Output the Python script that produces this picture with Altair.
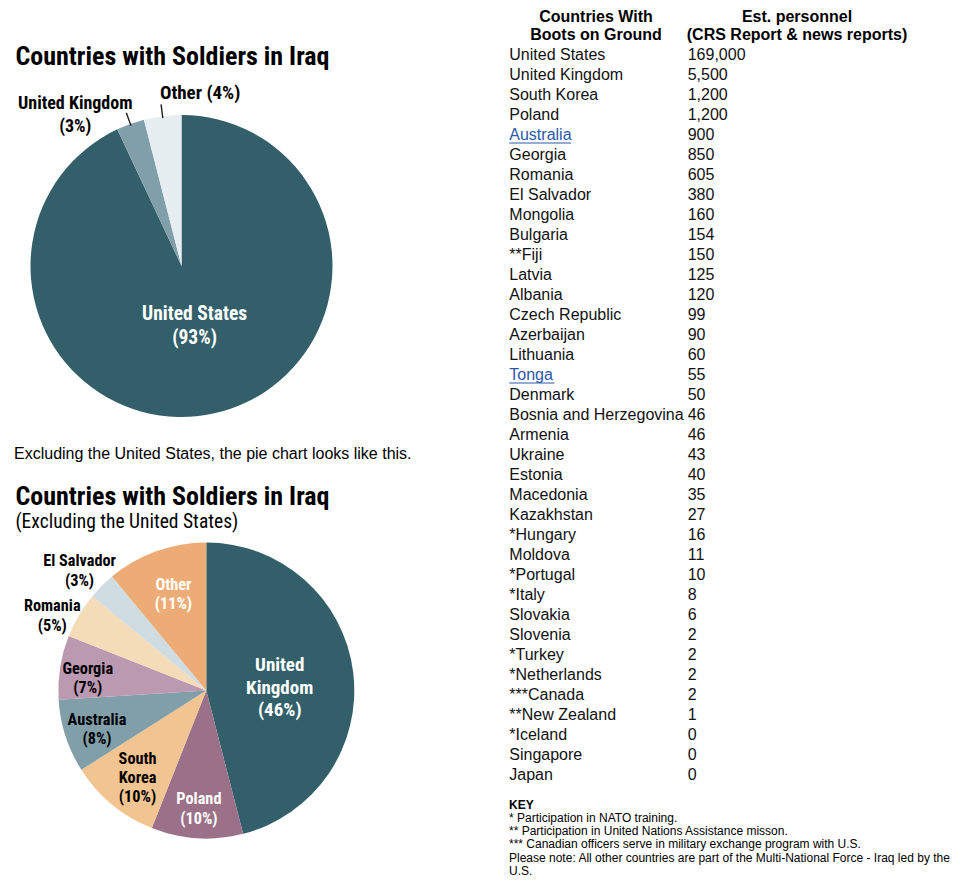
import altair as alt
import pandas as pd

# ---------------- data ----------------
pie1_names = ["United States", "United Kingdom", "Other"]
pie1_pct = [93, 3, 4]
pie1_colors = ["#335f6a", "#809fa9", "#e7eef2"]

pie2_names = ["United Kingdom", "Poland", "South Korea", "Australia",
              "Georgia", "Romania", "El Salvador", "Other"]
pie2_lines = ["United|Kingdom", "Poland", "South|Korea", "Australia",
              "Georgia", "Romania", "El Salvador", "Other"]
pie2_pct = [46, 10, 10, 8, 7, 5, 3, 11]
pie2_colors = ["#335f6a", "#9b7189", "#f2c491", "#809fa9",
               "#bb99b0", "#f5dcb9", "#cfdce2", "#edac76"]

countries = ["United States", "United Kingdom", "South Korea", "Poland", "Australia",
             "Georgia", "Romania", "El Salvador", "Mongolia", "Bulgaria", "**Fiji",
             "Latvia", "Albania", "Czech Republic", "Azerbaijan", "Lithuania", "Tonga",
             "Denmark", "Bosnia and Herzegovina", "Armenia", "Ukraine", "Estonia",
             "Macedonia", "Kazakhstan", "*Hungary", "Moldova", "*Portugal", "*Italy",
             "Slovakia", "Slovenia", "*Turkey", "*Netherlands", "***Canada",
             "**New Zealand", "*Iceland", "Singapore", "Japan"]
personnel = [169000, 5500, 1200, 1200, 900, 850, 605, 380, 160, 154, 150, 125, 120,
             99, 90, 60, 55, 50, 46, 46, 43, 40, 35, 27, 16, 11, 10, 8, 6, 2, 2, 2,
             2, 1, 0, 0, 0]
links = ["Australia", "Tonga"]

title_text = "Countries with Soldiers in Iraq"
subtitle_text = "(Excluding the United States)"
between_text = "Excluding the United States, the pie chart looks like this."
header1 = ["Countries With", "Boots on Ground"]
header2 = ["Est. personnel", "(CRS Report & news reports)"]
key_title = "KEY"
key_lines = ["* Participation in NATO training.",
             "** Participation in United Nations Assistance misson.",
             "*** Canadian officers serve in military exchange program with U.S.",
             "Please note: All other countries are part of the Multi-National Force - Iraq led by the",
             "U.S."]

# ---------------- styles ----------------
COND = "Roboto Condensed, Liberation Sans Narrow, DejaVu Sans Condensed, sans-serif"
SANS = "Liberation Sans, Arial, Helvetica, sans-serif"
LINK = "#2b58a8"

one = pd.DataFrame({"k": [0]})


def pie_df(names, lines, pct):
    return pd.DataFrame({"name": names, "lines": lines, "pct": pct,
                         "idx": list(range(len(names)))})


def with_angles(ch):
    return (ch.transform_joinaggregate(total="sum(pct)")
            .transform_window(cum="sum(pct)", sort=[alt.SortField("idx")], frame=[None, 0])
            .transform_calculate(a1="datum.cum / datum.total * 2 * PI")
            .transform_calculate(a0="(datum.cum - datum.pct) / datum.total * 2 * PI")
            .transform_calculate(mid="(datum.a0 + datum.a1) / 2"))


def pie_layer(df, names, colors, cx, cy, r):
    return with_angles(alt.Chart(df)).mark_arc(radius=r).encode(
        theta=alt.Theta("a0:Q", scale=None, stack=None),
        theta2="a1:Q",
        color=alt.Color("name:N", scale=alt.Scale(domain=names, range=colors), legend=None),
        x=alt.value(cx), y=alt.value(cy),
    )


def label_layer(df, name, cx, cy, r, color, size, lh, sep="|", dx=0, dy=0):
    return (with_angles(alt.Chart(df))
            .transform_filter(alt.datum.name == name)
            .transform_calculate(label="split(datum.lines + '" + sep + "(' + datum.pct + '%)', '|')")
            .mark_text(radius=r, font=COND, fontWeight="bold", fontSize=size, lineHeight=lh,
                       color=color, align="center", baseline="middle", dx=dx, dy=dy)
            .encode(theta=alt.Theta("mid:Q", scale=None, stack=None),
                    x=alt.value(cx), y=alt.value(cy), text=alt.Text("label:N")))


def leader_layer(df, names, cx, cy, r_out, r_in):
    return (with_angles(alt.Chart(df))
            .transform_filter(alt.FieldOneOfPredicate(field="name", oneOf=names))
            .transform_calculate(l0="datum.mid - 0.0045", l1="datum.mid + 0.0045")
            .mark_arc(radius=r_out, radius2=r_in, color="#222")
            .encode(theta=alt.Theta("l0:Q", scale=None, stack=None), theta2="l1:Q",
                    x=alt.value(cx), y=alt.value(cy)))


def text_value(txt, x, y, size, font=SANS, weight="normal", align="left", lh=None, color="black"):
    kw = dict(font=font, fontSize=size, fontWeight=weight, align=align, baseline="middle", color=color)
    if lh is not None:
        kw["lineHeight"] = lh
    return alt.Chart(one).mark_text(**kw).encode(
        x=alt.value(x), y=alt.value(y), text=alt.value(txt))


# ---------------- pies ----------------
p1 = pie_df(pie1_names, pie1_names, pie1_pct)
p2 = pie_df(pie2_names, pie2_lines, pie2_pct)
C1X, C1Y, R1 = 173.5, 258, 151
C2X, C2Y, R2 = 198.3, 682.5, 148

layers = [
    text_value(title_text, 7.5, 48.5, 26, font=COND, weight="bold"),
    pie_layer(p1, pie1_names, pie1_colors, C1X, C1Y, R1),
    leader_layer(p1, ["United Kingdom", "Other"], C1X, C1Y, 163, 149),
    label_layer(p1, "United States", C1X, C1Y, 60, "white", 19.5, 24, dy=-11),
    label_layer(p1, "United Kingdom", C1X, C1Y, 160, "black", 18, 23, dx=-52, dy=-11),
    label_layer(p1, "Other", C1X, C1Y, 170, "black", 19, 22, sep=" ", dx=40, dy=-4),
    text_value(between_text, 6, 446, 16),
    text_value(title_text, 7.5, 488.5, 26, font=COND, weight="bold"),
    text_value(subtitle_text, 7.5, 513.5, 19.5, font=COND),
    pie_layer(p2, pie2_names, pie2_colors, C2X, C2Y, R2),
    label_layer(p2, "United Kingdom", C2X, C2Y, 74, "white", 19, 22.5, dy=-16),
    label_layer(p2, "Poland", C2X, C2Y, 118, "white", 16.3, 19.5, dy=-9),
    label_layer(p2, "South Korea", C2X, C2Y, 111, "black", 16.3, 19.3, dx=2, dy=-17.5),
    label_layer(p2, "Australia", C2X, C2Y, 116, "black", 16.3, 19.3, dx=1, dy=-6.5),
    label_layer(p2, "Georgia", C2X, C2Y, 119, "black", 16.3, 19.3, dx=-1, dy=-3),
    label_layer(p2, "Romania", C2X, C2Y, 172, "black", 16.3, 19.3, dx=-6, dy=3.5),
    label_layer(p2, "El Salvador", C2X, C2Y, 175, "black", 16.3, 19.3, dx=-3, dy=-5.5),
    label_layer(p2, "Other", C2X, C2Y, 103, "white", 16.3, 19.3, dx=2, dy=-9),
]

# ---------------- table ----------------
tdf = pd.DataFrame({"country": countries, "personnel": personnel,
                    "row": list(range(len(countries)))})
yscale = alt.Scale(domain=[0, len(countries) - 1], range=[47, 767])
is_link = alt.FieldOneOfPredicate(field="country", oneOf=links)

layers += [
    text_value(header1, 588, 8.7, 16, weight="bold", align="center", lh=18.6),
    text_value(header2, 789, 8.7, 16, weight="bold", align="center", lh=18.6),
    alt.Chart(tdf).mark_text(align="left", baseline="middle", font=SANS, fontSize=16).encode(
        x=alt.value(501.3),
        y=alt.Y("row:Q", scale=yscale, axis=None),
        text=alt.Text("country:N"),
        color=alt.condition(is_link, alt.value(LINK), alt.value("#111111")),
    ),
    alt.Chart(tdf).mark_text(align="left", baseline="middle", font=SANS, fontSize=16, color="#111111").encode(
        x=alt.value(679.7),
        y=alt.Y("row:Q", scale=yscale, axis=None),
        text=alt.Text("personnel:Q", format=","),
    ),
    alt.Chart(tdf).transform_filter(alt.datum.country == "Australia").mark_rule(
        color=LINK, strokeWidth=1, yOffset=8).encode(
        x=alt.value(501.3), x2=alt.value(563), y=alt.Y("row:Q", scale=yscale, axis=None)),
    alt.Chart(tdf).transform_filter(alt.datum.country == "Tonga").mark_rule(
        color=LINK, strokeWidth=1, yOffset=8).encode(
        x=alt.value(501.3), x2=alt.value(546.3), y=alt.Y("row:Q", scale=yscale, axis=None)),
    text_value(key_title, 501, 797, 12, weight="bold"),
    text_value(key_lines, 501, 809.7, 12, lh=13.3),
]

chart = (alt.layer(*layers)
         .resolve_scale(color="independent")
         .properties(width=944, height=871, padding=0,
                     autosize=alt.AutoSizeParams(type="none"), background="white")
         .configure_view(strokeWidth=0))

chart.save("out.html", embed_options={"renderer": "svg", "actions": False})
